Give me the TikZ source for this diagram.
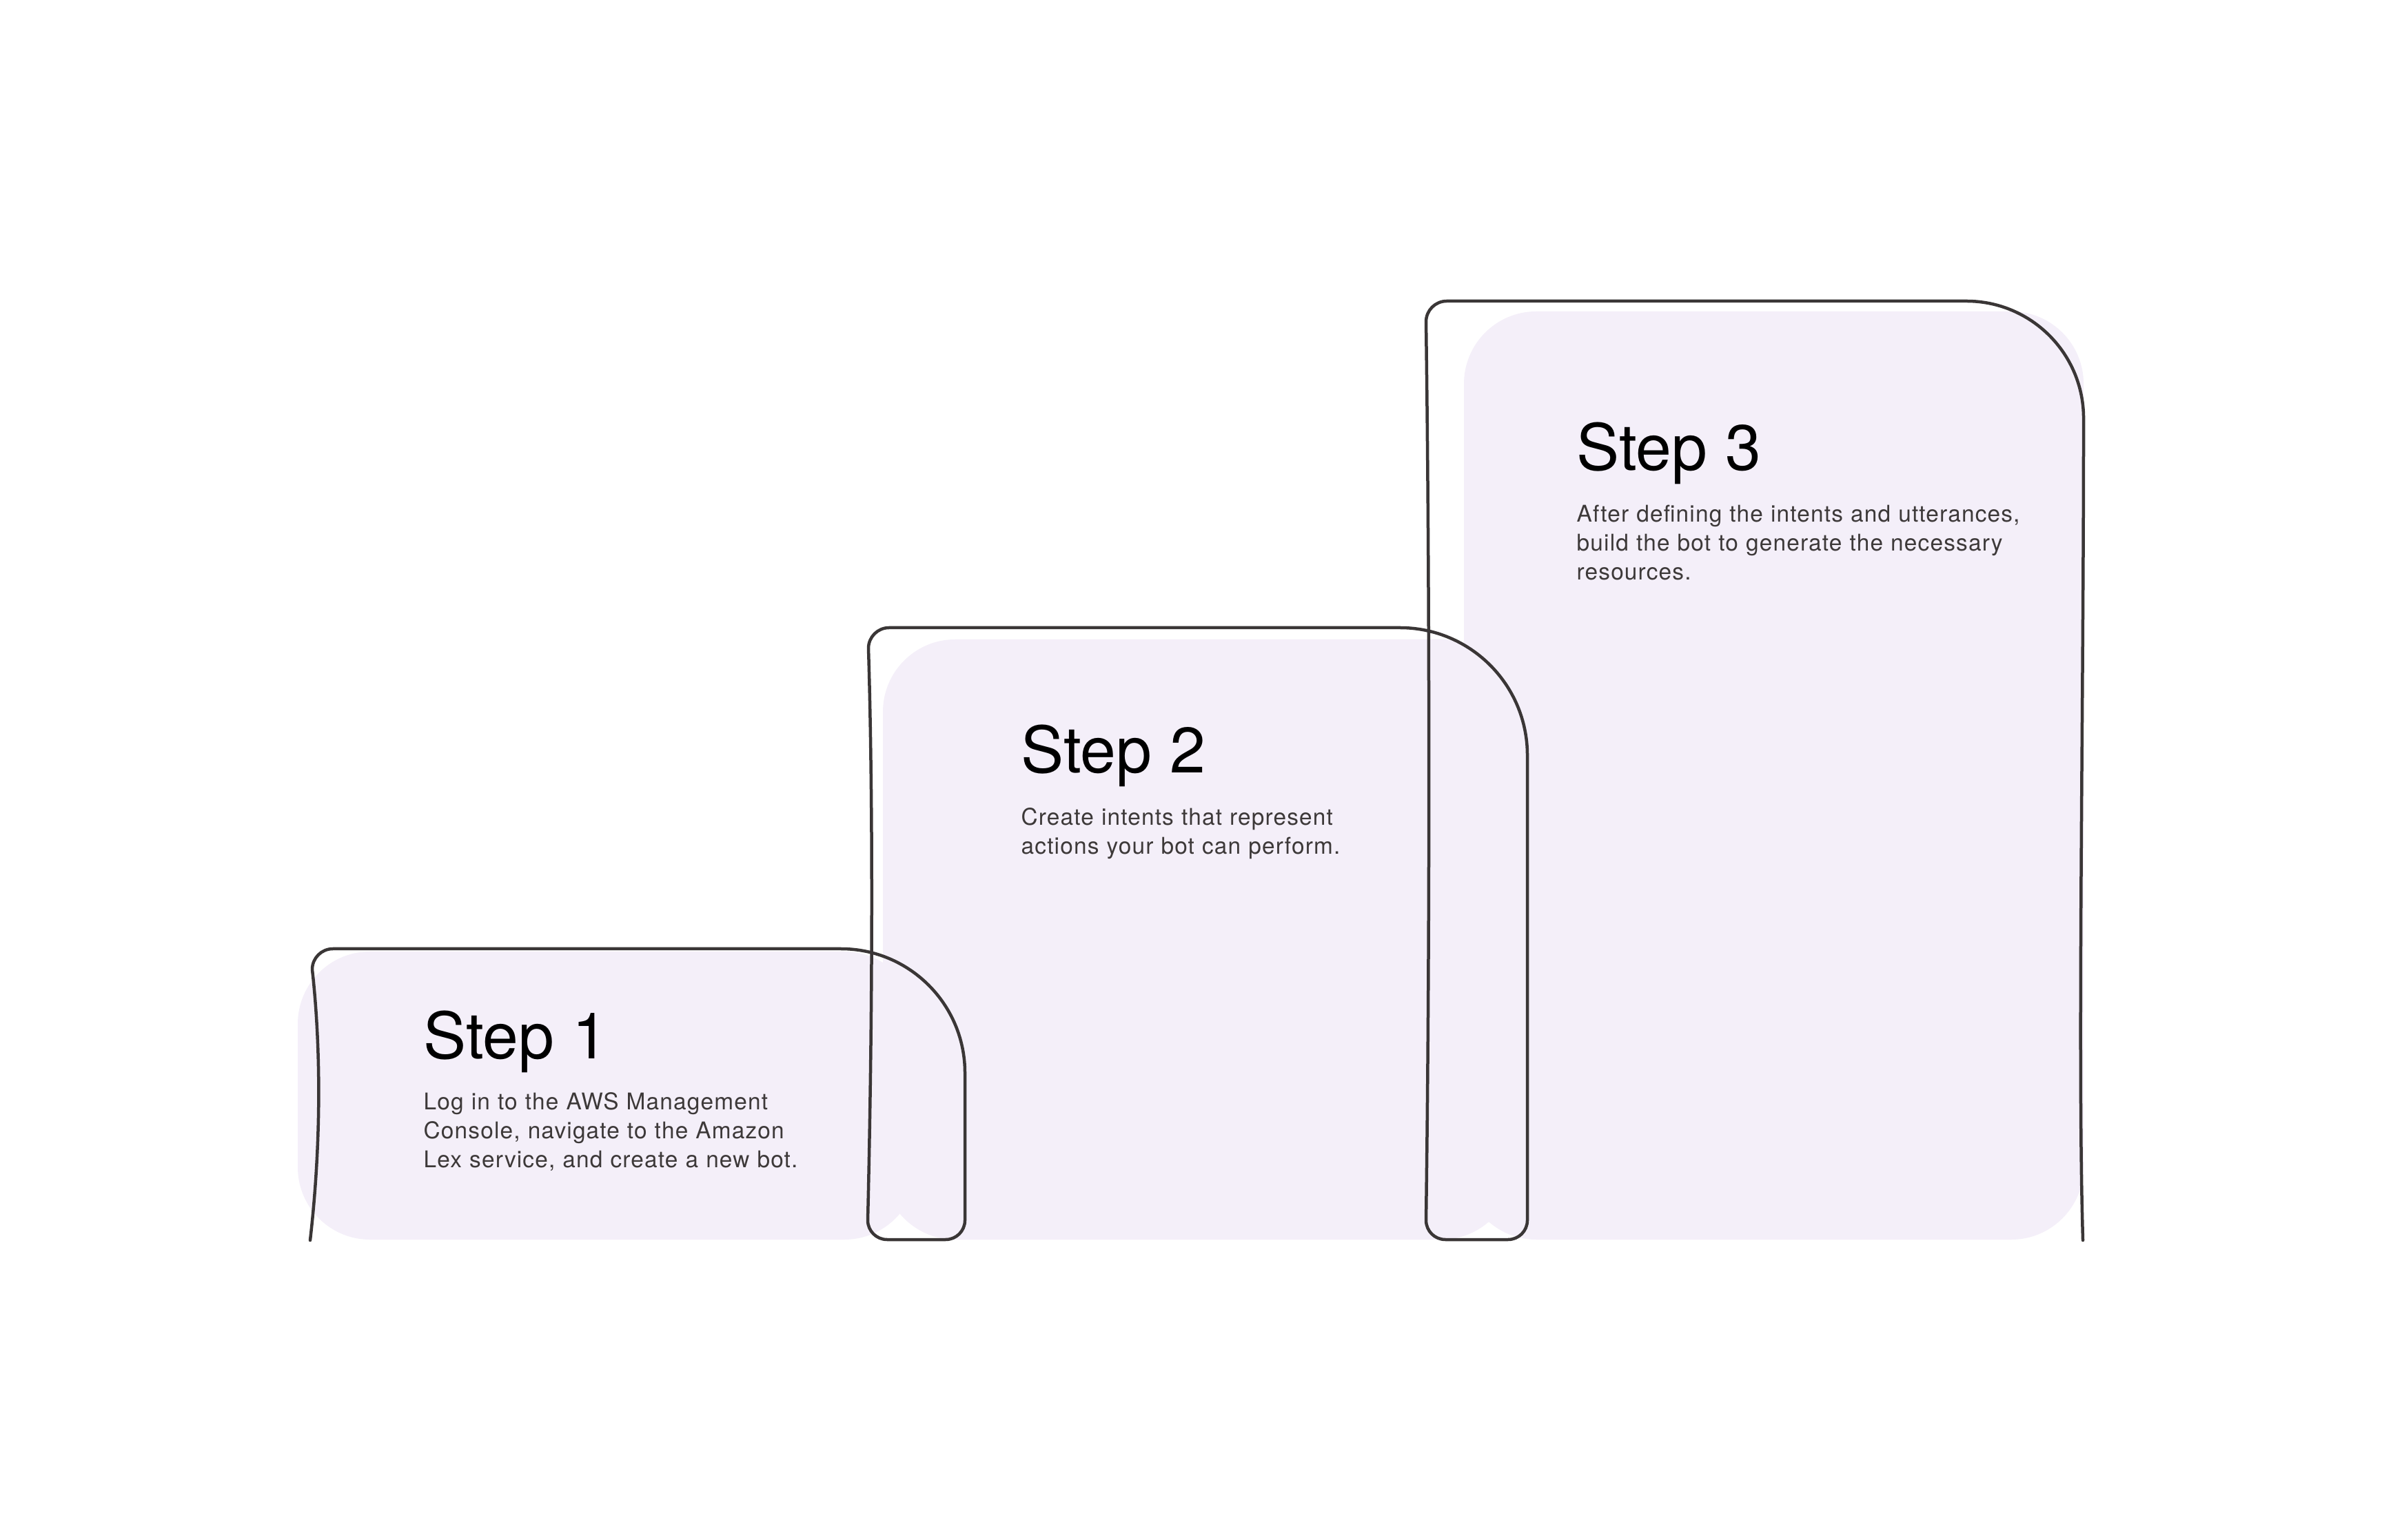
\documentclass[tikz,border=0pt]{standalone}
\usepackage{fontspec}
\setmainfont{TeX Gyre Heros}
\newfontfamily\txfont[LetterSpace=3.5]{TeX Gyre Heros}
\usepackage{tikz}
\usetikzlibrary{positioning}
\definecolor{lav}{HTML}{F4EFF9}
\definecolor{ink}{HTML}{3A3636}
\definecolor{gry}{HTML}{3D3939}
\tikzset{
  pad/.style={rectangle, rounded corners=1.05cm, draw=none, fill=lav, inner sep=0pt},
  hd/.style={anchor=base west, inner sep=0pt, text=black, font=\fontsize{26.5}{30}\selectfont},
  tx/.style={anchor=base west, inner sep=0pt, text=gry, text width=7.5cm, align=left, font=\txfont\fontsize{9.5}{11.95}\selectfont},
  ln/.style={draw=ink, line width=0.045cm, line join=round, line cap=round}
}
\begin{document}
\begin{tikzpicture}
	\useasboundingbox[fill=white] (0,0) rectangle (34.56,22.34);
	\node[pad, minimum width=8.98cm, minimum height=4.18cm] (p1) at (8.81,6.44) {};
	\node[pad, minimum width=9.15cm, minimum height=8.71cm] (p2) at (17.385,8.705) {};
	\node[pad, minimum width=8.99cm, minimum height=13.47cm] (p3) at (25.735,11.085) {};
	\node[hd] (h1) at (6.14,6.97) {Step 1};
	\node[tx] (t1) at (6.14,6.23) {Log in to the AWS Management\\Console, navigate to the Amazon\\Lex service, and create a new bot.};
	\node[hd] (h2) at (14.81,11.12) {Step 2};
	\node[tx] (t2) at (14.81,10.36) {Create intents that represent\\actions your bot can perform.};
	\node[hd] (h3) at (22.87,15.51) {Step 3};
	\node[tx] (t3) at (22.87,14.76) {After defining the intents and utterances,\\build the bot to generate the necessary\\resources.};
	\draw[ln] (4.50,4.34) .. controls (4.68,5.9) and (4.64,7.3) .. (4.53,8.27)
		arc[start angle=180, end angle=90, radius=0.3] -- (12.20,8.57)
		arc[start angle=90, end angle=0, radius=1.8] -- (14.00,4.63)
		arc[start angle=0, end angle=-90, radius=0.28] -- (12.87,4.35)
		arc[start angle=270, end angle=180, radius=0.28]
		.. controls (12.67,8.0) and (12.66,11.0) .. (12.60,12.93)
		arc[start angle=180, end angle=90, radius=0.3] -- (20.31,13.23)
		arc[start angle=90, end angle=0, radius=1.85] -- (22.16,4.63)
		arc[start angle=0, end angle=-90, radius=0.28] -- (20.97,4.35)
		arc[start angle=270, end angle=180, radius=0.28]
		.. controls (20.75,9.0) and (20.74,14.0) .. (20.69,17.67)
		arc[start angle=180, end angle=90, radius=0.3] -- (28.53,17.97)
		arc[start angle=90, end angle=0, radius=1.7]
		.. controls (30.23,12.0) and (30.14,7.0) .. (30.22,4.34);
\end{tikzpicture}
\end{document}
